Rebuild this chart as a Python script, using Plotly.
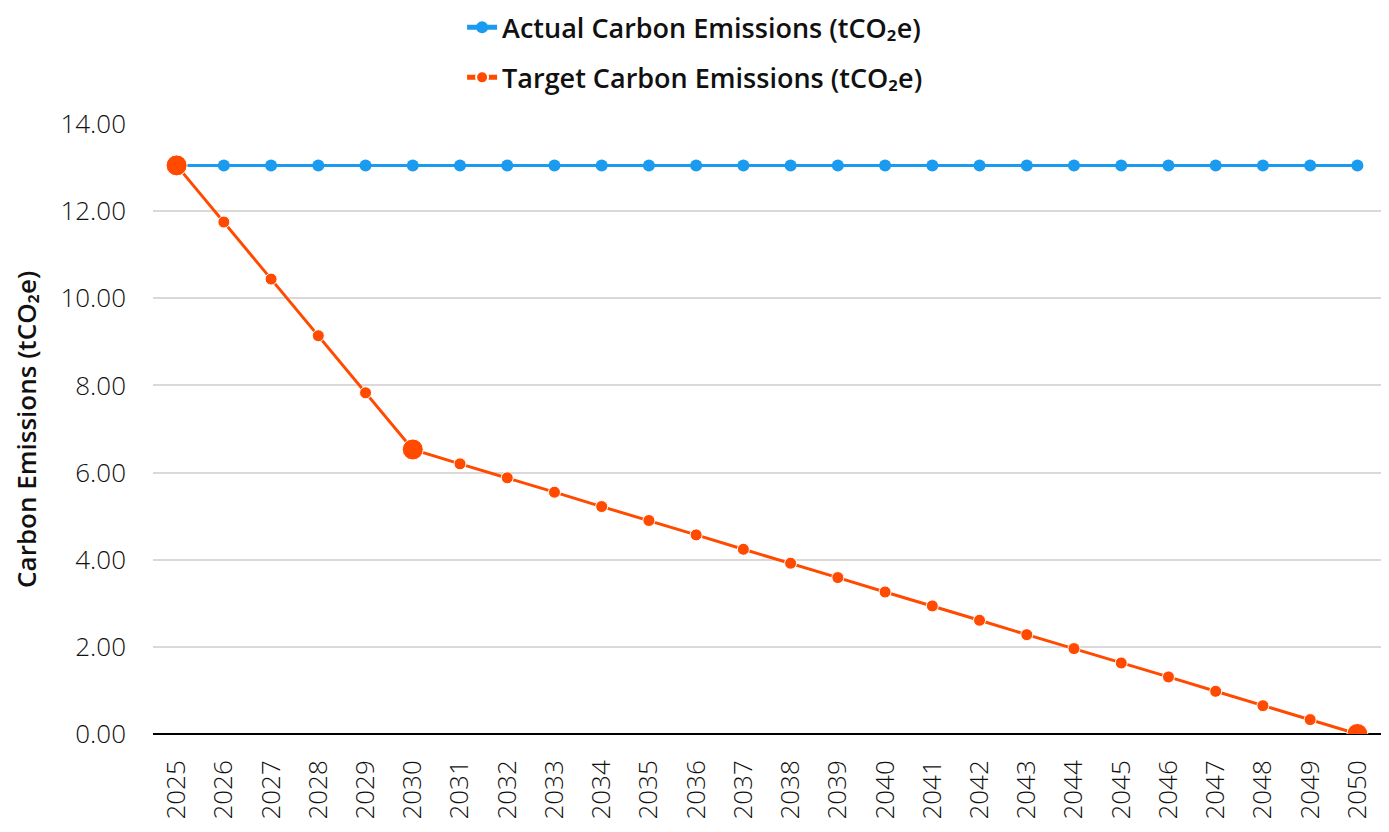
import plotly.graph_objects as go

years = [str(y) for y in range(2025, 2051)]
actual = [13.05] * 26
target = [13.05, 11.75, 10.44, 9.14, 7.83, 6.53, 6.20, 5.88, 5.55, 5.22, 4.90, 4.57, 4.24,
          3.92, 3.59, 3.26, 2.94, 2.61, 2.28, 1.96, 1.63, 1.31, 0.98, 0.65, 0.33, 0.00]
big_years = ["2025", "2030", "2050"]
y_title = "Carbon Emissions (tCO₂e)"

BLUE = "#1a9bf0"
ORANGE = "#ff4a00"
FONT = "Open Sans"

target_sizes = [21 if y in big_years else 12 for y in years]

fig = go.Figure()
fig.add_trace(go.Scatter(
    x=years, y=actual, mode="lines+markers", name="Actual Carbon Emissions (tCO₂e)",
    line=dict(color=BLUE, width=3), marker=dict(color=BLUE, size=12, opacity=1),
    legendgroup="a"))
fig.add_trace(go.Scatter(
    x=years, y=target, mode="lines+markers", name="Target Carbon Emissions (tCO₂e)",
    line=dict(color=ORANGE, width=3), marker=dict(color=ORANGE, size=target_sizes, opacity=1),
    legendgroup="b"))

fig.add_annotation(text=y_title, textangle=-90, xref="paper", yref="paper",
                   x=-0.1035, y=0.5, xanchor="center", yanchor="middle", showarrow=False,
                   font=dict(size=26, family=FONT, weight=600, color="#111111"))

fig.update_layout(
    width=1373, height=816,
    margin=dict(l=145, r=0, t=116, b=90, autoexpand=False),
    paper_bgcolor="white", plot_bgcolor="white",
    font=dict(family=FONT, color="#111111", size=24),
    showlegend=True,
    legend=dict(orientation="v", x=0.2517, xanchor="left", y=1.198, yanchor="top",
                yref="paper",
                font=dict(size=27, color="#111111", family=FONT, weight=600),
                tracegroupgap=12, bgcolor="rgba(0,0,0,0)", itemsizing="constant"),
    xaxis=dict(type="category", tickangle=-90, showgrid=False, showline=False,
               automargin=False, range=[-0.5, 25.5],
               tickfont=dict(size=26, family=FONT, weight=300, color="#111111"),
               ticklabelstandoff=20),
    yaxis=dict(range=[0, 14], dtick=2, tickformat=".2f", showgrid=True, gridcolor="#d9d9d9",
               gridwidth=1.5, zeroline=True, zerolinecolor="#000000", zerolinewidth=2,
               showline=False, ticklabelstandoff=26, automargin=False,
               tickfont=dict(size=26, family=FONT, weight=300, color="#111111")),
)

fig.write_html("out.html")
